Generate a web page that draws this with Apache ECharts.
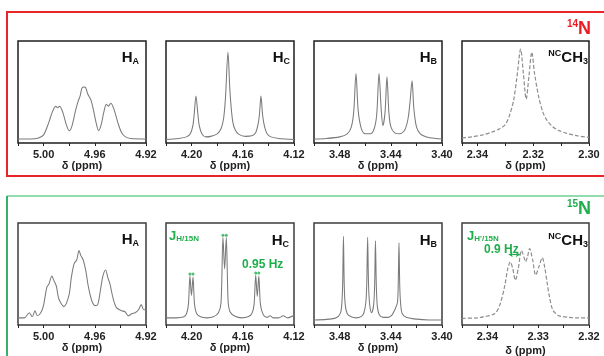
<!DOCTYPE html>
<html>
<head>
<meta charset="utf-8">
<script src="https://cdn.jsdelivr.net/npm/echarts@6/dist/echarts.min.js"></script>
<style>
html,body{margin:0;padding:0;background:#fff}
#main{width:604px;height:356px}
</style>
</head>
<body>
<div id="main"></div>
<script>
// 14N 谱图 [ppm, 强度%]
var haTop = [[5.020,4],[5.010,4],[5.004,5],[5.000,8],[4.996,20],[4.993,31],[4.9905,36],[4.989,34.5],[4.9875,36],[4.985,30],[4.982,17],[4.980,12],[4.978,16],[4.975,32],[4.973,41],[4.9715,46],[4.970,54],[4.968,55],[4.967,54],[4.9655,48],[4.963,42],[4.961,32],[4.959,20],[4.957,12],[4.955,18],[4.953,30],[4.951,38],[4.9495,36],[4.9475,39],[4.945,33],[4.942,20],[4.939,10],[4.936,6],[4.932,4.5],[4.920,4]];
var hcTop = [[4.220,3.5],[4.210,4.5],[4.204,6],[4.201,9],[4.199,17],[4.198,28],[4.1966,46],[4.195,27],[4.194,17],[4.192,9],[4.189,6],[4.185,6.5],[4.180,9],[4.177,14],[4.175,24],[4.1735,45],[4.1716,89],[4.170,50],[4.168,22],[4.166,13],[4.163,8.5],[4.158,6.5],[4.153,7],[4.150,10],[4.148,19],[4.147,28],[4.1458,46],[4.1445,27],[4.143,16],[4.141,9],[4.138,6],[4.132,4.5],[4.120,3.5]];
var hbTop = [[3.500,4],[3.490,4.5],[3.480,6],[3.474,9],[3.471,15],[3.469,30],[3.4672,68],[3.4655,32],[3.463,14],[3.460,9],[3.456,9],[3.453,14],[3.451,28],[3.4492,68],[3.4475,33],[3.4462,17],[3.4445,30],[3.4430,65],[3.4415,30],[3.440,16],[3.437,10],[3.433,9],[3.429,13],[3.4265,24],[3.4250,40],[3.4234,61],[3.422,34],[3.420,16],[3.417,9],[3.412,6],[3.405,4.5],[3.400,4]];
var ncTop = [[2.3455,5],[2.342,6],[2.338,8],[2.335,10.5],[2.332,14],[2.330,18],[2.3285,27],[2.327,42],[2.3258,65],[2.3245,92],[2.3235,68],[2.3225,43],[2.3215,66],[2.3205,89],[2.3195,68],[2.318,45],[2.3165,30],[2.315,22],[2.313,16],[2.311,12.5],[2.308,9.5],[2.304,7],[2.300,5.5]];

// 15N 谱图 [ppm, 强度%]
var haBot = [[5.020,7],[5.015,7],[5.0112,12],[5.0089,8],[5.0067,14],[5.0049,9],[5.0022,12],[5.0001,19],[4.9975,37],[4.9959,40],[4.9935,48],[4.9921,44],[4.990,38],[4.9882,26],[4.9842,18],[4.9802,29],[4.9784,46],[4.9762,60],[4.9741,64],[4.9723,73],[4.9709,68],[4.9691,64],[4.967,53],[4.9651,38],[4.9624,24],[4.9598,19],[4.9577,20],[4.9555,35],[4.9537,48],[4.9516,54],[4.9497,46],[4.9481,40],[4.9457,26],[4.9431,17],[4.9391,14],[4.9364,13],[4.9338,9],[4.9311,11],[4.9285,12],[4.9258,15],[4.9237,20],[4.9219,15],[4.920,15]];
var hcBot = [[4.220,7],[4.212,7],[4.206,8],[4.204,11],[4.2025,20],[4.2013,48],[4.2001,29],[4.1989,47],[4.1977,20],[4.196,11],[4.193,8],[4.188,7],[4.183,8],[4.179,12],[4.1770,22],[4.1755,86],[4.1742,55],[4.1729,86],[4.1715,24],[4.170,13],[4.166,8.5],[4.161,7],[4.156,8],[4.153,11],[4.1512,20],[4.1499,49],[4.1487,28],[4.1475,48],[4.1462,20],[4.144,10],[4.141,7.5],[4.1388,9],[4.136,7],[4.132,7],[4.1284,9],[4.125,7],[4.120,9.5]];
var hbBot = [[3.500,5],[3.490,5.5],[3.484,6.5],[3.481,8.5],[3.479,13],[3.4782,22],[3.4776,40],[3.4770,87],[3.4764,40],[3.4756,20],[3.474,11],[3.471,8],[3.467,7],[3.463,8.5],[3.461,12],[3.4595,22],[3.4588,40],[3.4581,86],[3.4574,40],[3.4565,20],[3.455,12],[3.4534,20],[3.4526,40],[3.4520,82.5],[3.4513,38],[3.4505,18],[3.449,10],[3.446,7.5],[3.442,7.5],[3.439,10],[3.4365,16],[3.4348,22],[3.4342,40],[3.4336,80.5],[3.4330,38],[3.4322,19],[3.431,11],[3.428,7.5],[3.422,6],[3.410,5],[3.400,5]];
var ncBot = [[2.345,6],[2.3447,6.5],[2.342,7],[2.3408,8],[2.3386,11],[2.3376,19],[2.3366,38],[2.336,55],[2.3355,62],[2.335,55],[2.3345,44],[2.3339,56],[2.3333,73],[2.3327,65],[2.3325,62],[2.3321,67],[2.3317,75],[2.3311,64],[2.3305,49],[2.3298,58],[2.3292,66],[2.3287,56],[2.3282,40],[2.3278,28],[2.3272,15.5],[2.3265,11],[2.3259,9],[2.324,7.5],[2.3226,7],[2.3205,7],[2.320,7]];

// 15N 偶合标记
var hcSplitTips = [[4.2013,50],[4.1989,50],[4.1755,88],[4.1729,88],[4.1499,51],[4.1475,51]];
var ncSplitArrow = [2.3358, 2.3336];
var ncSplitLevel = 69;

// 刻度标签
var haTicks = [5.00, 4.96, 4.92];
var hcTicks = [4.20, 4.16, 4.12];
var hbTicks = [3.48, 3.44, 3.40];
var ncTopTicks = [2.34, 2.32, 2.30];
var ncBotTicks = [2.34, 2.33, 2.32];

var green = '#1fae4b';
var red = '#ed1c24';

var rowTop = [41, 223];
var colLeft = [18, 166, 314, 462];

var panels = [
	{row:0, col:0, data:haTop, min:4.92, max:5.02, step:0.02, ticks:haTicks},
	{row:0, col:1, data:hcTop, min:4.12, max:4.22, step:0.02, ticks:hcTicks},
	{row:0, col:2, data:hbTop, min:3.40, max:3.50, step:0.02, ticks:hbTicks},
	{row:0, col:3, data:ncTop, min:2.30, max:2.3455, step:0.01, ticks:ncTopTicks, dashed:true},
	{row:1, col:0, data:haBot, min:4.92, max:5.02, step:0.02, ticks:haTicks},
	{row:1, col:1, data:hcBot, min:4.12, max:4.22, step:0.02, ticks:hcTicks},
	{row:1, col:2, data:hbBot, min:3.40, max:3.50, step:0.02, ticks:hbTicks},
	{row:1, col:3, data:ncBot, min:2.32, max:2.345, step:0.005, ticks:ncBotTicks, dashed:true, gap:20}
];

var tickFmt = function(list){
	return function(v){
		for (var k = 0; k < list.length; k++) {
			if (Math.abs(v - list[k]) < 1e-6) return list[k].toFixed(2);
		}
		return '';
	};
};

// 标签: 主体 + 下标/上标
var rich = {
	h: {fontSize:15, fontWeight:'bold', fontFamily:'Liberation Sans', lineHeight:17},
	s: {fontSize:9, fontWeight:'bold', fontFamily:'Liberation Sans', lineHeight:6, verticalAlign:'bottom'},
	p: {fontSize:9, fontWeight:'bold', fontFamily:'Liberation Sans', lineHeight:9, verticalAlign:'top'},
	N: {fontSize:18, fontWeight:'bold', fontFamily:'Liberation Sans', lineHeight:19},
	np: {fontSize:10, fontWeight:'bold', fontFamily:'Liberation Sans', lineHeight:10, verticalAlign:'top'},
	j: {fontSize:13, fontWeight:'bold', fontFamily:'Liberation Sans', lineHeight:14},
	js: {fontSize:8, fontWeight:'bold', fontFamily:'Liberation Sans', lineHeight:5, verticalAlign:'bottom'}
};
var txt = function(x, y, str, align, fill){
	return {type:'text', x:x, y:y, silent:true, z:20,
		style:{text:str, rich:rich, align:align || 'right', verticalAlign:'middle', fill:fill || '#111'}};
};

var option = {
	animation:false,
	backgroundColor:'#fff',
	grid:[], xAxis:[], yAxis:[], series:[],
	graphic:[]
};

panels.forEach(function(p, i){
	option.grid.push({
		left:colLeft[p.col], top:rowTop[p.row], width:p.col == 3 ? 127 : 128, height:102,
		show:true, borderColor:p.row ? '#3c3c3c' : '#1e1e1e', borderWidth:1.5,
		backgroundColor:'transparent', containLabel:false, outerBoundsMode:'none'
	});
	option.xAxis.push({
		type:'value', gridIndex:i, inverse:true, min:p.min, max:p.max, interval:p.step,
		splitLine:{show:false}, axisLine:{show:false},
		axisTick:{show:true, length:3, lineStyle:{color:'#222', width:1}},
		axisLabel:{show:true, margin:6, fontSize:11, fontWeight:'bold', fontFamily:'Liberation Sans', color:'#222',
			showMinLabel:true, showMaxLabel:true, formatter:tickFmt(p.ticks)},
		name:'δ (ppm)', nameLocation:'middle', nameGap:p.gap || 17, nameMoveOverlap:false,
		nameTextStyle:{fontSize:11, fontWeight:'bold', fontFamily:'Liberation Sans', color:'#222'}
	});
	option.yAxis.push({type:'value', gridIndex:i, min:0, max:100, show:false});
	option.series.push({
		type:'line', xAxisIndex:i, yAxisIndex:i, data:p.data, showSymbol:false, smooth:0.3,
		silent:true, z:5,
		lineStyle:p.dashed ? {color:'#8e8e8e', width:1.2, type:[4,2]} : {color:'#7a7a7a', width:1.05}
	});
});

// 15N 偶合小点 (H_C)
option.series.push({
	type:'scatter', xAxisIndex:5, yAxisIndex:5, data:hcSplitTips, symbol:'circle', symbolSize:3,
	itemStyle:{color:green}, silent:true, z:6
});
// 0.9 Hz 箭头 (NCCH3)
option.series.push({
	type:'line', xAxisIndex:7, yAxisIndex:7, data:[], silent:true,
	markLine:{
		silent:true, symbol:['arrow','arrow'], symbolSize:[4,4],
		label:{show:false}, lineStyle:{color:green, width:1.2, type:'solid'},
		data:[[{coord:[ncSplitArrow[0], ncSplitLevel]}, {coord:[ncSplitArrow[1], ncSplitLevel]}]]
	}
});

option.graphic = [
	{type:'rect', shape:{x:7, y:12, width:620, height:164}, style:{fill:'none', stroke:'#e8262a', lineWidth:2}, silent:true},
	{type:'line', shape:{x1:7, y1:196, x2:610, y2:196}, style:{stroke:'#92dbae', lineWidth:2}, silent:true},
	{type:'line', shape:{x1:7, y1:196, x2:7, y2:360}, style:{stroke:'#33b268', lineWidth:2}, silent:true},
	txt(591, 29, '{np|14}{N|N}', 'right', red),
	txt(591, 209, '{np|15}{N|N}', 'right', green),
	// 14N 行标签
	txt(139, 58, '{h|H}{s|A}'),
	txt(290, 58, '{h|H}{s|C}'),
	txt(437, 58, '{h|H}{s|B}'),
	txt(588, 58, '{p|NC}{h|CH}{s|3}'),
	// 15N 行标签
	txt(139, 240, '{h|H}{s|A}'),
	txt(289, 241, '{h|H}{s|C}'),
	txt(437, 241, '{h|H}{s|B}'),
	txt(588, 241, '{p|NC}{h|CH}{s|3}'),
	txt(169, 236, '{j|J}{js|H/15N}', 'left', green),
	txt(467, 236, '{j|J}{js|H\'/15N}', 'left', green),
	{type:'text', x:242, y:265, silent:true, z:20, style:{text:'0.95 Hz', fill:green, fontSize:12, fontWeight:'bold', fontFamily:'Liberation Sans', verticalAlign:'middle'}},
	{type:'text', x:484, y:250, silent:true, z:20, style:{text:'0.9 Hz', fill:green, fontSize:12, fontWeight:'bold', fontFamily:'Liberation Sans', verticalAlign:'middle'}}
];

var chart = echarts.init(document.getElementById('main'), null, {renderer:'canvas'});
chart.setOption(option);
</script>
</body>
</html>
